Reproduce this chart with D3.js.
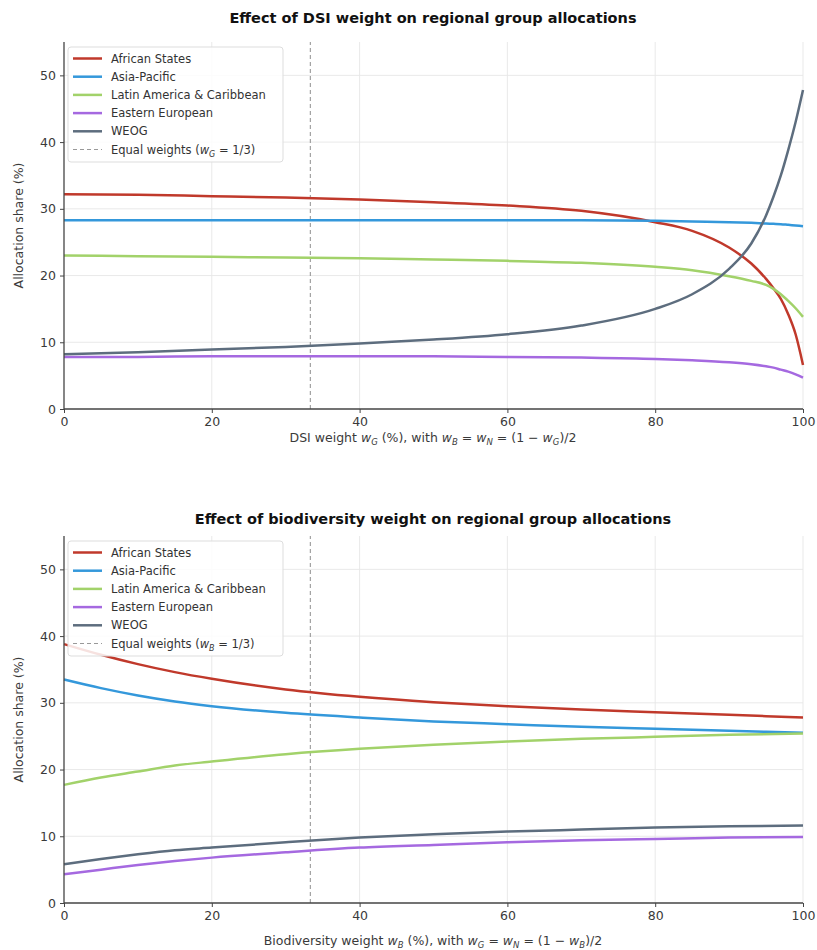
<!DOCTYPE html>
<html><head><meta charset="utf-8">
<script src="https://cdn.jsdelivr.net/npm/d3@7"></script>
<style>body{margin:0;background:#fff;} svg{display:block;font-family:"DejaVu Sans",sans-serif;}</style>
</head><body>
<svg id="c" width="817" height="950"></svg>
<script>
const seriesNames = ["African States","Asia-Pacific","Latin America & Caribbean","Eastern European","WEOG"];
const seriesColors = ["#c0392b","#3498db","#a2d26a","#a569e0","#5d6d7e"];

// Panel 1: DSI weight w_G (%)
const dsiX = [0,10,20,30,40,50,60,70,80,85,90,93,95,96,97,98,99,100];
const dsiAfrican = [32.2,32.1,31.9,31.7,31.4,31.0,30.5,29.7,28.0,26.7,24.2,21.8,19.5,18.1,16.5,14.2,11.2,6.6];
const dsiAsia    = [28.3,28.3,28.3,28.3,28.3,28.3,28.3,28.3,28.2,28.1,28.0,27.9,27.8,27.75,27.7,27.6,27.5,27.4];
const dsiLatin   = [23.0,22.9,22.8,22.7,22.6,22.4,22.2,21.9,21.3,20.8,19.9,19.2,18.6,18.0,17.2,16.2,15.1,13.8];
const dsiEastern = [7.8,7.8,7.9,7.9,7.9,7.9,7.8,7.7,7.5,7.3,7.0,6.7,6.4,6.2,5.9,5.6,5.2,4.7];
const dsiWEOG    = [8.2,8.5,8.9,9.3,9.8,10.4,11.2,12.5,15.0,17.2,21.0,24.8,29.0,31.8,35.0,38.8,43.0,47.8];

// Panel 2: Biodiversity weight w_B (%)
const bioX = [0,5,10,15,20,30,40,50,60,70,80,90,100];
const bioAfrican = [38.8,37.2,35.8,34.6,33.6,32.0,30.9,30.1,29.5,29.0,28.6,28.2,27.8];
const bioAsia    = [33.5,32.2,31.1,30.2,29.5,28.5,27.8,27.2,26.8,26.4,26.1,25.8,25.5];
const bioLatin   = [17.7,18.8,19.7,20.6,21.2,22.3,23.1,23.7,24.2,24.6,24.9,25.2,25.4];
const bioEastern = [4.3,5.0,5.7,6.3,6.8,7.6,8.3,8.7,9.1,9.4,9.6,9.8,9.9];
const bioWEOG    = [5.8,6.6,7.3,7.9,8.3,9.1,9.8,10.3,10.7,11.0,11.3,11.5,11.6];

const xTicks = [0,20,40,60,80,100];
const yTicks = [0,10,20,30,40,50];
const equalWeight = 100/3;

const svg = d3.select("#c");

function panel(opts){
  const g = svg.append("g");
  const x = d3.scaleLinear().domain([0,100]).range([64,803]);
  const y = d3.scaleLinear().domain([0,55]).range([opts.y0, opts.y0 - 367]);
  // grid
  g.append("g").selectAll("line.v").data(xTicks.slice(1)).join("line")
    .attr("x1",d=>x(d)).attr("x2",d=>x(d)).attr("y1",y(0)).attr("y2",y(55))
    .attr("stroke","#e6e6e6").attr("stroke-width",0.9);
  g.append("g").selectAll("line.h").data(yTicks.slice(1)).join("line")
    .attr("x1",x(0)).attr("x2",x(100)).attr("y1",d=>y(d)).attr("y2",d=>y(d))
    .attr("stroke","#e6e6e6").attr("stroke-width",0.9);
  // equal weights line
  g.append("line").attr("x1",x(equalWeight)).attr("x2",x(equalWeight))
    .attr("y1",y(0)).attr("y2",y(55)).attr("stroke","#999").attr("stroke-width",1.1)
    .attr("stroke-dasharray","4,3");
  // lines
  const line = d3.line().x((d,i)=>x(opts.xs[i])).y(d=>y(d)).curve(d3.curveMonotoneX);
  opts.series.forEach((s,i)=>{
    g.append("path").attr("d",line(s)).attr("fill","none")
      .attr("stroke",seriesColors[i]).attr("stroke-width",2.5);
  });
  // axes
  const xa = g.append("g").attr("transform",`translate(0,${y(0)})`)
    .call(d3.axisBottom(x).tickValues(xTicks).tickSize(4).tickPadding(4));
  const ya = g.append("g").attr("transform",`translate(${x(0)},0)`)
    .call(d3.axisLeft(y).tickValues(yTicks).tickSize(4).tickPadding(4));
  [xa,ya].forEach(a=>{
    a.select(".domain").attr("stroke","#444").attr("stroke-width",1.3);
    a.selectAll(".tick line").attr("stroke","#444");
    a.selectAll(".tick text").attr("fill","#3a3a3a").attr("font-size",12.5)
      .attr("font-family","DejaVu Sans");
  });
  xa.select(".domain").attr("d",`M${x(0)},0H${x(100)}`);
  ya.select(".domain").attr("d",`M0,${y(0)}V${y(55)}`);
  // title
  g.append("text").attr("x",433).attr("y",opts.titleY).attr("text-anchor","middle")
    .attr("font-weight","bold").attr("font-size",14.5).attr("fill","#111").text(opts.title);
  // y label
  g.append("text").attr("transform",`translate(23,${(y(0)+y(55))/2}) rotate(-90)`)
    .attr("text-anchor","middle").attr("font-size",12.5).attr("fill","#3a3a3a")
    .text("Allocation share (%)");
  // x label
  const xl = g.append("text").attr("x",433).attr("y",opts.xlabY).attr("text-anchor","middle")
    .attr("font-size",12.5).attr("fill","#3a3a3a");
  opts.xlab.forEach(p=>{
    const t = xl.append("tspan").text(p.t);
    if(p.i) t.attr("font-style","italic");
    if(p.s) t.attr("font-size",8.5).attr("dy",3);
    if(p.u) t.attr("dy",-3);
  });
  // legend
  const L = g.append("g").attr("transform",`translate(68,${opts.legY})`);
  L.append("rect").attr("x",0).attr("y",0).attr("width",215).attr("height",115)
    .attr("rx",3).attr("fill","#fff").attr("fill-opacity",0.85).attr("stroke","#ddd");
  const items = seriesNames.map((n,i)=>({n:n,c:seriesColors[i],dash:false}));
  items.push({n:null,c:"#999",dash:true});
  items.forEach((it,i)=>{
    const yy = 11.5 + i*18.2;
    L.append("line").attr("x1",5).attr("x2",34).attr("y1",yy).attr("y2",yy)
      .attr("stroke",it.c).attr("stroke-width",it.dash?1.1:2.5)
      .attr("stroke-dasharray",it.dash?"4,3":null);
    const t = L.append("text").attr("x",43).attr("y",yy+4).attr("font-size",11.5).attr("fill","#333");
    if(it.n) t.text(it.n);
    else {
      t.append("tspan").text("Equal weights (");
      t.append("tspan").text("w").attr("font-style","italic");
      t.append("tspan").text(opts.sub).attr("font-size",8).attr("dy",3).attr("font-style","italic");
      t.append("tspan").text(" = 1/3)").attr("dy",-3);
    }
  });
}

panel({
  xs: dsiX, series:[dsiAfrican,dsiAsia,dsiLatin,dsiEastern,dsiWEOG],
  y0: 409, title:"Effect of DSI weight on regional group allocations", titleY: 23,
  xlabY: 442, legY: 47, sub:"G",
  xlab:[{t:"DSI weight "},{t:"w",i:1},{t:"G",i:1,s:1},{t:" (%), with ",u:1},{t:"w",i:1},{t:"B",i:1,s:1},
        {t:" = ",u:1},{t:"w",i:1},{t:"N",i:1,s:1},{t:" = (1 − ",u:1},{t:"w",i:1},{t:"G",i:1,s:1},{t:")/2",u:1}]
});
panel({
  xs: bioX, series:[bioAfrican,bioAsia,bioLatin,bioEastern,bioWEOG],
  y0: 903, title:"Effect of biodiversity weight on regional group allocations", titleY: 524,
  xlabY: 945, legY: 541, sub:"B",
  xlab:[{t:"Biodiversity weight "},{t:"w",i:1},{t:"B",i:1,s:1},{t:" (%), with ",u:1},{t:"w",i:1},{t:"G",i:1,s:1},
        {t:" = ",u:1},{t:"w",i:1},{t:"N",i:1,s:1},{t:" = (1 − ",u:1},{t:"w",i:1},{t:"B",i:1,s:1},{t:")/2",u:1}]
});
</script>
</body></html>
